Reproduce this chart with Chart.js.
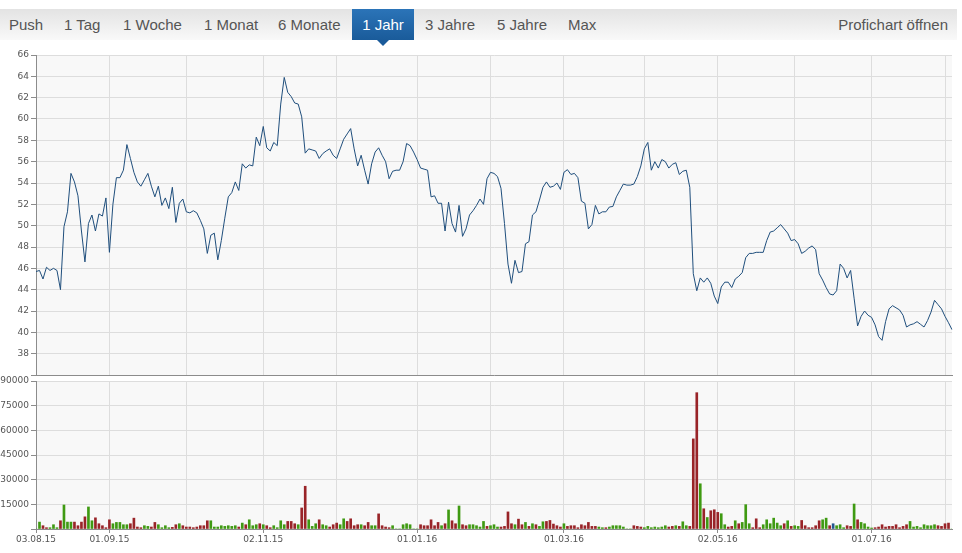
<!DOCTYPE html>
<html><head><meta charset="utf-8">
<script src="https://cdn.jsdelivr.net/npm/chart.js@4.4.1/dist/chart.umd.min.js"></script>
<style>
html,body{margin:0;padding:0;background:#fff;width:962px;height:553px;overflow:hidden;font-family:"Liberation Sans",Arial,sans-serif;}
#nav{position:absolute;left:0;top:9px;width:957px;height:31px;background:linear-gradient(#e3e3e3,#f9f9f9);}
.it{position:absolute;top:0;line-height:31px;font-size:15px;color:#555;white-space:nowrap;}
#sel{position:absolute;left:352px;top:0;width:62px;height:31px;background:linear-gradient(#2b74b8,#1a5b9a);}
#sel span{display:block;text-align:center;line-height:31px;font-size:15px;color:#fff;}
#sel:after{content:"";position:absolute;left:25px;top:31px;border-left:6px solid transparent;border-right:6px solid transparent;border-top:6px solid #1a5b9a;}
canvas{position:absolute;left:0;}
</style></head><body>
<div id="nav">
<span class="it" style="left:9px">Push</span>
<span class="it" style="left:64px">1 Tag</span>
<span class="it" style="left:123px">1 Woche</span>
<span class="it" style="left:204px">1 Monat</span>
<span class="it" style="left:278px">6 Monate</span>
<div id="sel"><span>1 Jahr</span></div>
<span class="it" style="left:425px">3 Jahre</span>
<span class="it" style="left:497px">5 Jahre</span>
<span class="it" style="left:568px">Max</span>
<span class="it" style="right:9px">Profichart öffnen</span>
</div>
<canvas id="price" width="962" height="340" style="top:45px"></canvas>
<canvas id="vol" width="962" height="182" style="top:371px"></canvas>
<script>
// ---- data ----
const firstDay = [2015, 7, 3];   // 03.08.2015
const dayCount = 263;
const xTickLabels = ['03.08.15','01.09.15','02.11.15','01.01.16','01.03.16','02.05.16','01.07.16'];
const priceTicks = [38,40,42,44,46,48,50,52,54,56,58,60,62,64,66];
const volumeTicks = [15000,30000,45000,60000,75000,90000];

const closePrices = [
45.7,45.8,45.0,46.1,45.8,46.0,45.8,44.0,49.9,51.3,
54.9,54.1,52.8,49.5,46.6,50.2,51.0,49.5,51.1,50.9,
52.6,47.5,52.0,54.5,54.5,55.2,57.6,56.3,55.0,54.1,
53.7,54.3,54.9,53.7,52.7,53.7,51.9,52.6,51.6,53.6,
50.3,52.1,52.5,51.3,51.2,51.4,51.2,50.5,49.7,47.4,
49.1,49.3,46.8,48.6,50.7,52.7,53.1,54.1,53.3,55.8,
55.4,55.7,55.6,58.3,57.5,59.3,57.3,57.0,57.8,57.5,
61.4,63.9,62.5,62.1,61.5,61.4,60.2,56.8,57.2,57.1,
57.0,56.3,56.75,57.0,57.2,56.6,56.3,57.2,58.1,58.6,
59.1,57.2,55.6,56.6,55.2,53.9,55.8,56.9,57.3,56.6,
56.0,54.4,55.1,55.2,55.2,56.0,57.7,57.5,56.9,56.2,
55.4,55.3,55.2,52.7,52.8,52.1,52.1,49.5,52.2,50.2,
49.4,51.9,49.0,49.7,51.0,51.4,51.9,52.5,52.0,54.4,
55.0,54.9,54.6,53.5,50.2,46.4,44.6,46.75,45.6,45.7,
48.3,48.5,51.0,51.3,52.4,53.6,54.1,53.6,53.7,54.0,
53.4,55.0,55.25,54.8,54.9,54.5,52.3,52.1,49.7,50.1,
51.9,51.1,51.3,51.3,51.75,51.8,52.7,53.3,53.9,53.8,
53.8,53.9,54.6,55.6,57.2,57.8,55.2,56.0,55.4,56.2,
56.0,55.4,55.75,55.9,54.8,55.1,55.2,53.6,45.5,43.9,
45.1,44.7,45.1,44.6,43.4,42.7,44.25,44.7,44.7,44.2,
45.0,45.25,45.6,47.0,47.4,47.4,47.5,47.5,47.5,48.6,
49.4,49.5,49.8,50.1,49.7,49.3,48.6,48.7,48.3,47.4,
47.6,47.9,48.1,47.75,45.5,44.9,44.2,43.6,43.5,43.9,
46.4,46.0,45.1,45.8,43.2,40.6,41.5,42.0,41.6,41.4,
40.7,39.6,39.25,41.0,42.2,42.5,42.3,42.1,41.6,40.5,
40.7,40.8,41.0,40.75,40.5,41.1,41.9,43.0,42.6,42.2,
41.5,40.9,40.25];

const volumes = [
0,4200,2000,800,800,2600,800,5000,14600,4200,
4200,4200,2000,4200,7400,13400,5000,6800,3200,2000,
800,5600,3200,4000,4000,2600,2600,3200,6600,1200,
800,2000,1600,1200,4000,2600,800,2000,800,1000,
2600,3200,2000,1200,1200,800,1200,2000,2000,5000,
5000,1200,1200,2000,1600,2000,1600,2000,1200,3600,
2600,5600,2000,2600,3200,2600,2000,800,2000,800,
5000,2600,4600,4600,3200,2600,12800,26000,5600,1600,
3200,5600,2600,2000,1200,2600,3600,2600,6200,4600,
6200,2000,2600,2600,2000,4000,2000,2000,9200,2000,
1200,800,2000,0,0,2600,3200,2600,0,0,
2600,2000,2000,5600,2000,4000,2000,3200,11600,5000,
3200,14000,2600,2000,2600,2600,2000,1200,4600,1600,
2000,2600,1200,1200,1600,10400,3200,2600,6000,2600,
4000,1600,3200,2600,1600,4400,4600,5200,3000,2000,
1200,3200,1600,2000,2000,800,2600,2000,4000,1600,
1600,1200,800,800,1200,2000,2000,2000,1200,0,
0,2000,1600,1200,800,1600,800,1200,800,1200,
2000,1200,1600,2000,1600,4400,2000,1600,54800,82900,
27500,12300,7000,11100,11700,10100,9300,2600,1200,1600,
5000,3200,4000,14800,3200,800,6200,800,2600,5600,
3200,6600,3600,2000,3200,5000,1600,2000,1600,5200,
2000,800,800,2000,5000,5600,6600,2000,3200,2000,
2600,800,2000,1600,15200,5600,4000,3200,1200,600,
800,1200,2600,1200,1600,1600,2600,800,1600,2600,
4600,1200,1600,800,2600,2000,2000,2600,2000,1600,
3200,3600,0];

// 1 = up (green), -1 = down (red), 0 = unchanged (blue)
const moveDirection = [
1,1,-1,-1,1,1,1,-1,1,1,
1,-1,-1,-1,-1,1,1,-1,-1,-1,
-1,-1,1,1,1,1,1,-1,-1,-1,
-1,1,1,-1,-1,1,1,1,1,-1,
-1,1,-1,-1,-1,-1,-1,-1,-1,-1,
1,1,1,1,1,1,1,1,-1,1,
-1,1,1,1,-1,1,-1,-1,1,1,
1,1,-1,-1,-1,1,-1,-1,1,1,
1,-1,1,1,-1,-1,-1,1,1,-1,
-1,-1,-1,1,-1,-1,1,1,-1,-1,
-1,-1,1,1,1,1,1,1,1,1,
-1,-1,-1,-1,-1,-1,1,-1,1,-1,
-1,1,-1,-1,1,1,1,1,1,-1,
1,1,1,-1,-1,-1,-1,1,-1,-1,
1,-1,1,-1,1,1,-1,-1,-1,-1,
-1,1,-1,-1,-1,-1,-1,-1,-1,-1,
-1,1,1,-1,1,1,1,1,1,1,
1,-1,-1,-1,1,1,1,1,1,1,
1,-1,-1,1,-1,1,1,-1,-1,-1,
1,-1,1,-1,-1,-1,1,1,-1,-1,
1,-1,1,1,1,-1,-1,-1,1,1,
1,1,1,1,-1,1,-1,1,1,-1,
-1,-1,-1,-1,-1,1,1,-1,0,1,
1,1,-1,-1,1,-1,1,1,1,1,
-1,-1,-1,-1,-1,-1,-1,-1,-1,-1,
1,1,1,1,1,1,1,1,-1,-1,
-1,-1,1];

// trading-day categories (weekdays)
function pad(n){return (n<10?'0':'')+n;}
const tradingDays = [];
{
  const d = new Date(Date.UTC(firstDay[0], firstDay[1], firstDay[2]));
  while (tradingDays.length < dayCount) {
    const wd = d.getUTCDay();
    if (wd !== 0 && wd !== 6) tradingDays.push(pad(d.getUTCDate())+'.'+pad(d.getUTCMonth()+1)+'.'+String(d.getUTCFullYear()).slice(2));
    d.setUTCDate(d.getUTCDate()+1);
  }
}
function isMonthStart(i){ if(i==null||i<0||i>=tradingDays.length) return false; return i===0 || tradingDays[i].slice(3)!==tradingDays[i-1].slice(3); }

const GRID = '#dddddd', AXIS = '#8c8c8c', TXT = '#555555';
const tickFont = {family:'DejaVu Sans', size:9};
const dirColors = {'1':'#3f9a12', '-1':'#992428', '0':'#24578f'};

const bgPlugin = {id:'bg', beforeDraw(c){const a=c.chartArea, x=c.ctx; x.save(); x.fillStyle='#f8f8f8'; x.fillRect(a.left,a.top,a.right-a.left,a.bottom-a.top); x.restore();}};
const common = {responsive:false, animation:false, events:[], plugins:{legend:{display:false}, tooltip:{enabled:false}}};

new Chart(document.getElementById('price'), {
  type:'line',
  data:{labels:tradingDays, datasets:[{data:closePrices, borderColor:'#1f4e7c', borderWidth:1, pointRadius:0, tension:0, fill:false}]},
  options:Object.assign({}, common, {
    layout:{padding:{left:0,right:10,top:10,bottom:10}},
    scales:{
      x:{type:'category', offset:false,
         grid:{offset:false, color:c=>isMonthStart(c.index)?GRID:'rgba(0,0,0,0)', drawTicks:false},
         border:{color:AXIS}, ticks:{display:false, autoSkip:false},
         afterFit(s){s.height=0;}},
      y:{min:36, max:66,
         afterBuildTicks(s){s.ticks=[36].concat(priceTicks).map(v=>({value:v}));},
         ticks:{font:tickFont, color:TXT, padding:2, callback:v=>priceTicks.includes(v)?String(v):''},
         grid:{color:GRID, tickColor:AXIS, tickLength:5},
         border:{color:AXIS},
         afterFit(s){s.width=36;}}
    }
  }),
  plugins:[bgPlugin]
});

new Chart(document.getElementById('vol'), {
  type:'bar',
  data:{labels:tradingDays, datasets:[{data:volumes, backgroundColor:c=>dirColors[String(moveDirection[c.dataIndex])], barThickness:2, borderWidth:0}]},
  options:Object.assign({}, common, {
    layout:{padding:{left:0,right:10,top:10,bottom:0}},
    scales:{
      x:{type:'category', offset:false,
         grid:{offset:false, color:c=>isMonthStart(c.index)?GRID:'rgba(0,0,0,0)',
               tickColor:c=>xTickLabels.includes(tradingDays[c.index])?AXIS:'rgba(0,0,0,0)', tickLength:4},
         border:{color:AXIS},
         ticks:{autoSkip:false, maxRotation:0, minRotation:0, padding:1, font:tickFont, color:TXT,
                callback:(v,i)=>xTickLabels.includes(tradingDays[i])?tradingDays[i]:''},
         afterFit(s){s.height=24;}},
      y:{min:0, max:90000,
         afterBuildTicks(s){s.ticks=[0].concat(volumeTicks).map(v=>({value:v}));},
         ticks:{font:tickFont, color:TXT, padding:2, callback:v=>volumeTicks.includes(v)?String(v):''},
         grid:{color:GRID, tickColor:AXIS, tickLength:5},
         border:{color:AXIS},
         afterFit(s){s.width=36;}}
    }
  }),
  plugins:[bgPlugin]
});
</script>
</body></html>
